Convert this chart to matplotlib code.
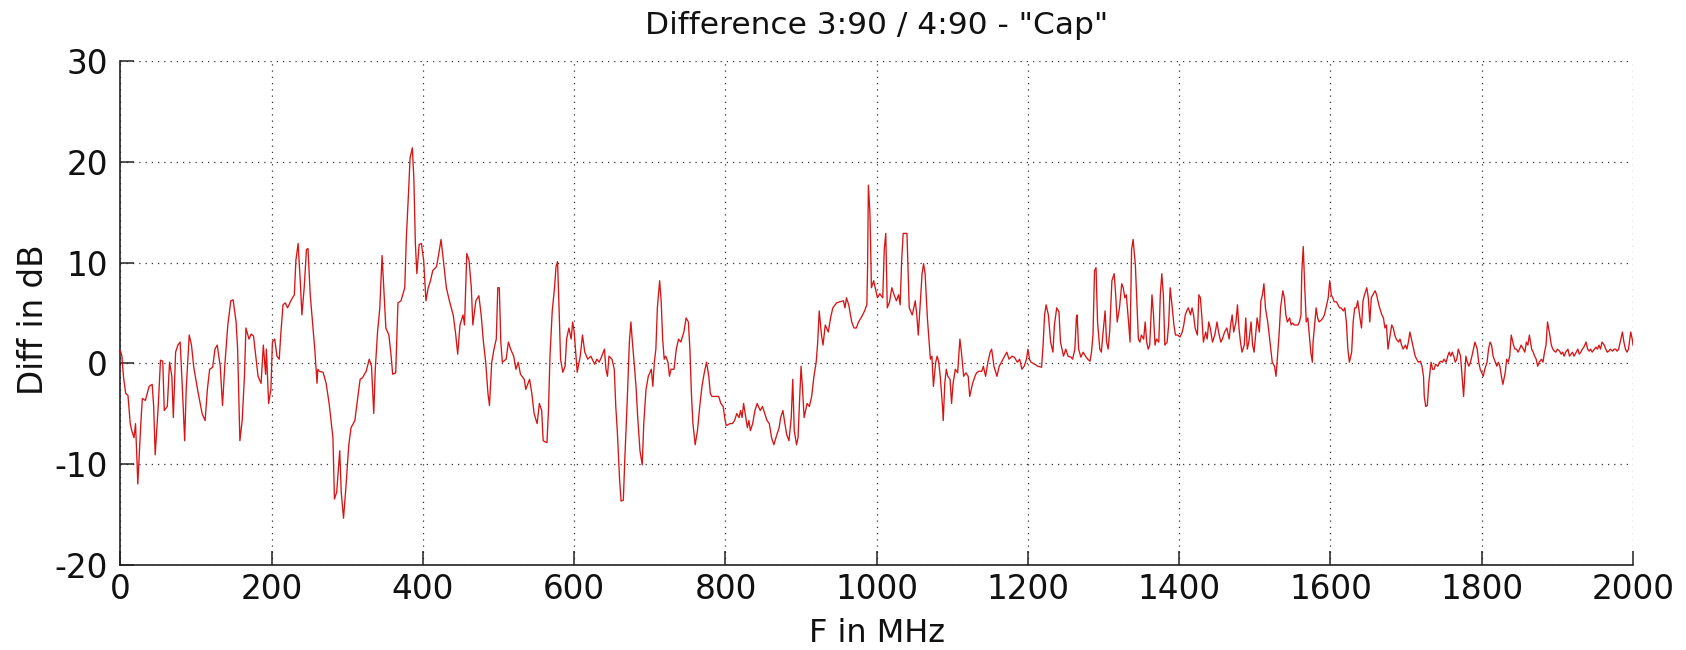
import matplotlib
matplotlib.use("Agg")
import matplotlib.pyplot as plt
import numpy as np

# ---------------- data ----------------
title = 'Difference 3:90 / 4:90 - "Cap"'
x_label = "F in MHz"
y_label = "Diff in dB"
x_ticks = [0, 200, 400, 600, 800, 1000, 1200, 1400, 1600, 1800, 2000]
y_ticks = [-20, -10, 0, 10, 20, 30]

freq_0_500 = [0, 2, 4, 7, 10, 13, 15, 18, 20, 22, 23, 27, 29, 33, 38, 42, 44, 46, 50, 53,
              56, 58, 62, 65, 68, 70, 73, 76, 79, 82, 85, 87, 91, 94, 97, 102, 108, 112, 115, 118,
              122, 125, 128, 132, 135, 138, 142, 146, 149, 153, 155, 158, 161, 164, 166, 170, 173, 176, 179, 182,
              186, 189, 192, 193, 196, 199, 201, 204, 207, 210, 212, 215, 218, 221, 226, 230, 232, 235, 238, 240,
              243, 246,
              248, 251, 254, 257, 260, 261, 263, 268, 272, 276,
              281, 283, 286, 290, 292, 295, 298, 302, 305, 310,
              314, 317, 320, 325, 329, 332, 335, 337, 340, 343,
              346, 348, 351, 355, 358, 360, 364, 367, 371, 376,
              378, 381, 383, 386, 388, 390, 392, 395, 398, 401,
              404, 407, 410, 413, 418, 421, 424, 427, 431, 435,
              440, 443, 446, 449, 453, 455, 458, 461, 464, 466,
              470, 474, 477, 480, 483, 486, 488, 491, 494, 497,
              499]
db_0_500 = [1.25, 0.7, -1.3, -3, -3.2, -6, -6.7, -7.4, -6, -9.8, -12, -6, -3.5, -3.7, -2.3, -2.1, -4.3, -9.1, -4.3, 0.3,
            0.2, -4.7, -4.3, 0.1, -1.3, -5.4, 1.1, 1.8, 2.1, -2.6, -7.7, -2.6, 2.8, 1.8, -0.4, -2.6, -5, -5.7, -2.6, -0.6,
            -0.4, 1.4, 1.8, -0.3, -4.2, -0.3, 3.8, 6.2, 6.3, 4.1, 1.4, -7.7, -5.7, -1.3, 3.5, 2.4, 2.9, 2.7, 0.7, -1.3,
            -2, 1.8, -1.1, 1.4, -4, -2.6, 2.1, 2.4, 0.7, 0.4, 2.8, 5.8, 6, 5.5, 6.3, 6.8, 10.2, 11.9, 7.9, 4.8,
            7.5, 11.3,
            11.4, 6.8, 4.1, 1.4, -2, -0.6, -0.8, -0.9, -2, -4,
            -7.4, -13.5, -12.8, -8.7, -12.8, -15.4, -12.5, -8.1, -6.4, -5.7,
            -3.3, -1.6, -1.45, -0.8, 0.4, -0.3, -5, -0.6, 3.1, 5.5,
            10.7, 7.9, 3.5, 2.8, 0.7, -1.1, -0.95, 6, 6.2, 7.5,
            12.3, 17, 20.4, 21.4, 18.4, 11.9, 8.9, 11.8, 11.9, 10.2,
            6.2, 7.5, 8.2, 9.2, 9.6, 10.9, 12.3, 10.2, 7.5, 6.2,
            4.8, 3.1, 0.9, 3.8, 4.8, 3.8, 10.9, 10.2, 7.5, 3.8,
            6.2, 6.7, 4.8, 2.1, 0.1, -3, -4.2, 0.1, 1.4, 2.4,
            7.5]

freq_500_1000 = [501, 503, 505, 510, 513, 516, 520, 523, 526, 529,
                 534, 536, 541, 544, 547, 551, 554, 557, 559, 564,
                 566, 568, 571, 574, 576, 578, 580, 582, 585, 588,
                 590, 593, 596, 598, 600, 602, 604, 608, 611, 614,
                 618, 622, 627, 630, 633, 636, 640, 642, 644, 646,
                 650, 653, 655, 657, 660, 662, 665, 667, 670, 673,
                 675, 677, 680, 682, 684, 687, 690, 692, 695, 698,
                 702, 704, 706, 708, 710, 713, 715, 717, 719, 721,
                 724, 726, 728, 732, 735, 738, 741, 745, 748, 751,
                 753,
                 755, 757, 760, 763, 766, 769, 772, 775, 778, 780,
                 782, 787, 791, 794, 797, 799, 801, 806, 809, 812,
                 815, 818, 820, 822, 824, 827, 829, 831, 833, 836,
                 839, 842, 846, 849, 852, 855, 858, 861, 864, 868,
                 871, 873, 876, 878, 881, 884, 887, 889, 891, 894,
                 896, 898, 900, 902, 904, 908, 911, 914, 917, 920,
                 922, 924, 927, 929, 932, 936, 939, 942, 947, 951,
                 956, 958, 960, 963, 967, 970, 973, 976, 980, 984,
                 987, 988, 989, 991, 992, 993, 996, 998, 1001]
db_500_1000 = [7.5, 2.1, 0.1, 0.4, 2.1, 1.4, 0.7, -0.6, 0.1, -1.1,
               -1.6, -2.6, -1.6, -3, -5, -6, -4, -4.7, -7.7, -7.9,
               -4.7, 0.7, 5.2, 7.5, 9.6, 10.1, 5.5, 0.4, -0.9, -0.3,
               2.4, 3.5, 2.4, 4.1, 3.1, 1.1, -0.9, 0.7, 2.8, 1.1,
               0.4, 0.7, -0.1, 0.4, 0.1, 0.6, 1.4, -0.6, -1.3, 0.7,
               0.4, -0.6, -4.3, -6.7, -11.5, -13.7, -13.6, -9.4, -4, 2.1,
               4.1, 2.1, -0.6, -2.6, -5.4, -8.7, -10.1, -6, -2.6, -1.3,
               -0.6, -2.3, 0.1, 1.4, 5.5, 8.2, 6.2, 2.4, 0.4, 0.7,
               0.1, -1.3, -0.6, -0.6, 1.4, 2.4, 2.1, 3.1, 4.5, 4.1,
               1.4,
               -3, -6, -8.1, -6.7, -4.3, -2.3, -0.95, 0.1, -1.3, -3,
               -3.3, -3.3, -3.3, -4, -4.3, -5.4, -6.2, -6, -6, -5.7,
               -5, -5.4, -4.7, -5.4, -4, -5.4, -6.4, -5.7, -6.7, -6,
               -4.7, -4, -4.7, -4.3, -5, -5.7, -6, -7.4, -8.1, -7.1,
               -6.4, -5.4, -4.7, -5.7, -7.1, -7.7, -5.4, -1.6, -6.7, -8.1,
               -7.4, -3.7, -0.3, -2.65, -5.4, -4, -4.3, -3.3, -1.3, 0.1,
               2.1, 5.2, 2.8, 1.8, 3.8, 3.1, 4.5, 5.5, 6, 6.1,
               6.2, 5.5, 6.5, 5.8, 4.1, 3.5, 3.5, 4.1, 4.6, 5.2,
               5.8, 9.9, 17.7, 15, 11.6, 7.5, 8.2, 7.5, 6.5]

freq_1000_1500 = [1004, 1008, 1010, 1012, 1014, 1017, 1020, 1023, 1026, 1029,
                  1031, 1033, 1035, 1040, 1041, 1043, 1047, 1049, 1051, 1053,
                  1055, 1058, 1060, 1062, 1064, 1067, 1069, 1071, 1073, 1075,
                  1078, 1080, 1082, 1084, 1087, 1088, 1090, 1092, 1094, 1097,
                  1099, 1101, 1104, 1107, 1110, 1112, 1115, 1118, 1121, 1123,
                  1127, 1130, 1132, 1135, 1139, 1141, 1144, 1147, 1150, 1152,
                  1155, 1159, 1162, 1165, 1169, 1172, 1175, 1179, 1182, 1186,
                  1189, 1192, 1195, 1198, 1200, 1202, 1204, 1209, 1213, 1218,
                  1220, 1222, 1224, 1227, 1230, 1233, 1235, 1238, 1241, 1243,
                  1247, 1250, 1253, 1257,
                  1259, 1262, 1264, 1265, 1267, 1270, 1273, 1276, 1279, 1282,
                  1284, 1286, 1288, 1290, 1292, 1295, 1297, 1299, 1302, 1304,
                  1306, 1308, 1311, 1314, 1316, 1318, 1321, 1324, 1326, 1328,
                  1330, 1333, 1335, 1337, 1339, 1342, 1344, 1346, 1348, 1350,
                  1353, 1355, 1357, 1359, 1361, 1364, 1366, 1368, 1370, 1373,
                  1375, 1377, 1379, 1381, 1384, 1386, 1388, 1390, 1393, 1395,
                  1398, 1401, 1404, 1406, 1408, 1410, 1412, 1415, 1417, 1419,
                  1421, 1424, 1426, 1428, 1430, 1432, 1435, 1437, 1439, 1441,
                  1444, 1447, 1450, 1452, 1455, 1457, 1460, 1463, 1466, 1468,
                  1470, 1472, 1475, 1477, 1479, 1481, 1483, 1486, 1488, 1490,
                  1492, 1495, 1497, 1499, 1501, 1503, 1506, 1508]
db_1000_1500 = [6.9, 6.5, 11.3, 12.9, 5.5, 6.1, 7.5, 6.8, 6.2, 6.8,
                5.8, 10.2, 12.9, 12.9, 10.5, 5.5, 4.8, 5.5, 6.2, 4.8,
                2.8, 6.5, 8.9, 9.9, 8.9, 4.5, 2.4, 0.4, 0.7, -2.3,
                0.1, 0.7, 0.1, -1.3, -4.3, -5.7, -2, -0.6, -1.3, -1.6,
                -4, -2, -0.6, -0.95, 2.4, 1.1, -1.3, -0.95, -1.3, -3.3,
                -1.95, -1.3, -0.95, -0.8, -0.8, -0.3, -1.3, 0.1, 1.1, 1.4,
                -0.3, -1.3, -0.3, 0.1, 0.7, 1.1, 0.4, 0.7, 0.6, 0.1,
                0.4, -0.6, -0.3, 0.4, 1.4, 0.4, 0.1, -0.1, -0.3, -0.4,
                1.8, 4.8, 5.8, 4.8, 2.1, 1.1, 3.8, 5.5, 5.1, 2.1,
                0.7, 1.4, 0.7, 0.6,
                0.4, 1.4, 4.5, 4.8, 1.4, 0.6, 1.1, 0.7, 0.4, 0.2,
                1.1, 2.8, 9.2, 9.5, 4.1, 1.4, 1.1, 2.8, 5.2, 2.1,
                1.4, 3.1, 8.2, 8.9, 6.8, 4.1, 5.5, 7.9, 7.5, 6.5,
                6.8, 4.1, 2.1, 11.3, 12.3, 9.8, 6.1, 2.4, 2.1, 2.8,
                2.4, 4.1, 2.1, 1.4, 1.8, 6.8, 4.8, 1.8, 2.4, 2.1,
                6.8, 8.9, 6.8, 1.8, 2.1, 3.8, 7.5, 6.1, 3.8, 2.8,
                2.8, 2.6, 3.1, 3.8, 4.8, 5.2, 5.5, 4.8, 5.5, 4.8,
                3.5, 2.8, 6.8, 6.5, 4.5, 2.1, 3.1, 2.4, 4.1, 3.5,
                2.1, 2.8, 4.1, 3.1, 2.1, 2.4, 3.1, 3.5, 2.4, 3.8,
                4.8, 3.1, 4.1, 5.8, 3.5, 2.1, 1.1, 1.8, 4.5, 1.4,
                2.1, 4.1, 1.8, 1.1, 2.8, 4.5, 3.1, 6.2]

freq_1500_2000 = [1510, 1512, 1514, 1517, 1519, 1521, 1523, 1526, 1528, 1530,
                  1532, 1534, 1537, 1539, 1541, 1543, 1546, 1548, 1550, 1552,
                  1554, 1557, 1559, 1561, 1562, 1564, 1566, 1568, 1570, 1572,
                  1574, 1576, 1577, 1579, 1581, 1583, 1585, 1588, 1590, 1592,
                  1594, 1597, 1599, 1601, 1603, 1605, 1608, 1610, 1612, 1614,
                  1617, 1619, 1621, 1623, 1625, 1628, 1630, 1632, 1634, 1636,
                  1639, 1641, 1643, 1645, 1648, 1650, 1652, 1654, 1656, 1659,
                  1661, 1663, 1665, 1668, 1670, 1672, 1674, 1676, 1679, 1681,
                  1683, 1685, 1687, 1690, 1692, 1694, 1696, 1699, 1701, 1703,
                  1705, 1707, 1710, 1712, 1714, 1716, 1719, 1721, 1723, 1724,
                  1726, 1728, 1730, 1733, 1735, 1737, 1739, 1742, 1744, 1746,
                  1748, 1750, 1753, 1755, 1757, 1759,
                  1761, 1763, 1765, 1767, 1769, 1772, 1774, 1776, 1777, 1779,
                  1781, 1783, 1785, 1787, 1789, 1791, 1794, 1796, 1798, 1800,
                  1802, 1804, 1807, 1809, 1811, 1813, 1815, 1818, 1820, 1822,
                  1824, 1826, 1828, 1831, 1833, 1835, 1837, 1839, 1842, 1844,
                  1846, 1848, 1850, 1852, 1855, 1857, 1859, 1861, 1863, 1866,
                  1868, 1870, 1872, 1874, 1876, 1879, 1881, 1883, 1885, 1887,
                  1890, 1892, 1894, 1896, 1898, 1900, 1903, 1905, 1907, 1909,
                  1911, 1914, 1916, 1918, 1920, 1922, 1925, 1927, 1929, 1931,
                  1933, 1935, 1938, 1940, 1942, 1944, 1946, 1949, 1951, 1953,
                  1955, 1957, 1959, 1962, 1964, 1966, 1968, 1970, 1973, 1975,
                  1977, 1979, 1981, 1983, 1986, 1988, 1990, 1992, 1994, 1997,
                  1999, 2000]
db_1500_2000 = [6.8, 7.9, 5.5, 4.1, 2.8, 1.4, 0.1, -0.3, -1.3, 0.7,
                2.8, 5.5, 7.2, 6.5, 4.8, 4.1, 4.5, 3.8, 4, 3.8,
                3.8, 3.8, 4.1, 4.8, 8.9, 11.6, 7.5, 4.1, 4.5, 2.8,
                1.1, 0.1, 2.1, 3.8, 5.5, 4.5, 4.1, 4.3, 4.5, 4.8,
                5.5, 6.5, 8.2, 6.8, 6.5, 6.1, 6.1, 5.8, 5.5, 5.5,
                5.2, 5.5, 4.1, 1.4, 0.1, 1.1, 4.1, 5.5, 5.5, 6.2,
                4.5, 3.5, 6.2, 6.8, 7.5, 6.5, 4.1, 6.5, 6.8, 7.2,
                6.8, 6.1, 5.5, 4.8, 4.5, 3.5, 3.8, 1.4, 2.8, 3.8,
                3.5, 2.8, 2.4, 2.1, 2.4, 1.8, 1.4, 1.8, 1.4, 2.1,
                3.1, 2.4, 1.4, 0.7, 0.4, 0.1, 0.2, -0.3, -1.3, -3.3,
                -4.3, -4.2, -1.95, 0.1, -0.6, -0.6, -0.1, -0.3, 0.1, 0.2,
                0.1, 0.4, 0.1, 0.7, 1.1, 0.7,
                1.1, 0.7, 0.1, 0.4, 1.4, 0.7, -1.3, -3.3, -1.95, 0.7,
                0.1, -0.3, 0.1, 0.7, 1.4, 2.1, 1.4, 0.1, -0.6, -0.95,
                -1.3, -0.6, 0.1, 1.4, 2.1, 1.8, 0.7, 0.1, -0.3, 0.1,
                -0.3, -1.3, -2.1, -0.95, 0.4, 0.1, 0.7, 2.8, 1.8, 1.4,
                1.4, 1.1, 1.4, 1.8, 1.4, 1.1, 2.1, 1.8, 2.8, 1.4,
                1.1, 0.7, 0.4, -0.3, 0.1, 0.4, 0.1, 1.1, 1.8, 4.1,
                2.8, 1.8, 1.4, 1.2, 1.1, 1.4, 1.2, 0.9, 1.1, 0.7,
                1.1, 1.4, 0.7, 0.9, 1.1, 0.7, 1.1, 1.4, 0.9, 1.1,
                1.4, 1.6, 2.1, 1.4, 1.2, 1.4, 1.1, 1.4, 1.6, 1.4,
                1.8, 1.4, 2.1, 1.8, 1.4, 1.1, 1.2, 1.4, 1.2, 1.4,
                1.4, 1.2, 1.4, 2.1, 3.1, 2.1, 1.4, 1.1, 1.4, 3.1,
                2.4, 1.8]

freq = np.concatenate([freq_0_500, freq_500_1000, freq_1000_1500, freq_1500_2000])
diff_db = np.concatenate([db_0_500, db_500_1000, db_1000_1500, db_1500_2000])

# ---------------- figure ----------------
plt.rcParams['font.family'] = ['DejaVu Sans']
W, H = 1686, 650
fig = plt.figure(figsize=(W / 100, H / 100), dpi=100)
ax = fig.add_axes([120.4 / W, 1 - 564.5 / H, (1633 - 120.4) / W, (564.5 - 61.3) / H])

ax.plot(freq, diff_db, color='#d81414', linewidth=0.95, zorder=3)

ax.set_xlim(0, 2000)
ax.set_ylim(-20, 30)
ax.set_xticks(x_ticks)
ax.set_yticks(y_ticks)
ax.set_xticklabels([str(t) for t in x_ticks])
ax.set_yticklabels([str(t) for t in y_ticks])

ax.grid(True, color='#333333', linestyle=(0, (1, 4)), linewidth=0.9)
for s in ('top', 'right'):
    ax.spines[s].set_visible(False)
for s in ('left', 'bottom'):
    ax.spines[s].set_linewidth(1.2)
    ax.spines[s].set_color('#222222')

ax.tick_params(axis='both', direction='in', length=10, width=1.1, color='#222222',
               labelsize=23.5, labelcolor='#111111')
ax.tick_params(axis='x', pad=6)
ax.tick_params(axis='y', pad=9)

ax.set_title(title, fontsize=22.5, pad=20, color='#111111')
ax.set_xlabel(x_label, fontsize=23, color='#111111')
ax.set_ylabel(y_label, fontsize=23.5, color='#111111')
ax.xaxis.set_label_coords(0.5, -0.107)
ax.yaxis.set_label_coords(-0.0466, 0.486)

fig.savefig("out.png", dpi=100)
